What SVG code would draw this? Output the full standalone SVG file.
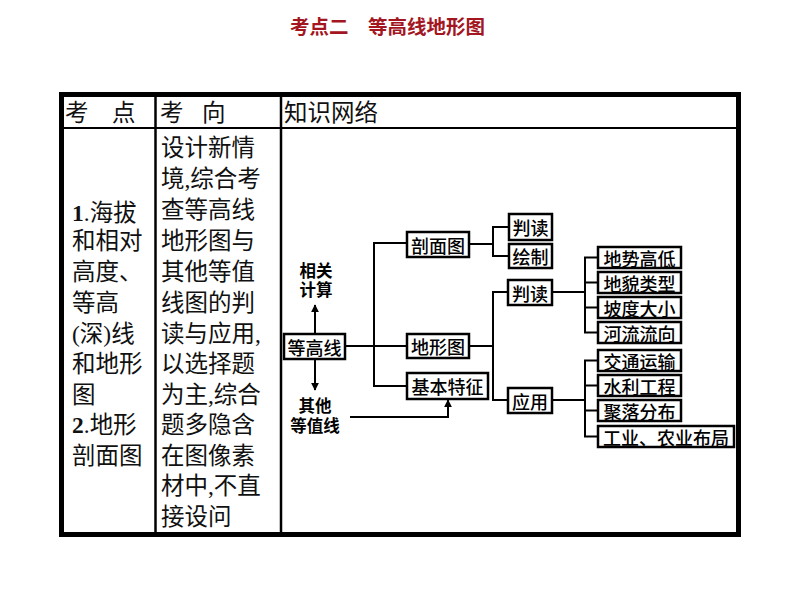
<svg xmlns="http://www.w3.org/2000/svg" width="794" height="596" viewBox="0 0 794 596">
<defs>
<style>
.tbl{font-family:"Liberation Serif","Noto Sans CJK SC",serif;font-size:23.5px;fill:#111;dominant-baseline:central}
.box rect{fill:#fff;stroke:#000;stroke-width:2.5}
.box text{font-family:"Noto Sans CJK SC",sans-serif;font-size:18px;font-weight:500;fill:#000;dominant-baseline:central;text-anchor:middle}
.lbl{font-family:"Liberation Sans","Noto Sans CJK SC",sans-serif;font-weight:700;font-size:16.5px;fill:#000;dominant-baseline:central;text-anchor:middle}
.conn{fill:none;stroke:#000;stroke-width:2}
</style>
<marker id="ah" viewBox="0 0 10 10" refX="9" refY="5" markerWidth="4" markerHeight="5" orient="auto" markerUnits="strokeWidth">
<path d="M0,0 L10,5 L0,10 z" fill="#000"/>
</marker>
</defs>
<rect width="794" height="596" fill="#fff"/>
<text x="290" y="25" font-family="Noto Sans CJK SC,sans-serif" font-size="19.5" font-weight="700" fill="#a3161f" dominant-baseline="central">考点二　等高线地形图</text>

<g id="table">
<rect x="61.5" y="94.5" width="677" height="440" fill="none" stroke="#000" stroke-width="5"/>
<line x1="61" y1="128" x2="738" y2="128" stroke="#000" stroke-width="2"/>
<line x1="155.5" y1="95" x2="155.5" y2="534" stroke="#000" stroke-width="2.5"/>
<line x1="281" y1="95" x2="281" y2="534" stroke="#000" stroke-width="2.5"/>
<text class="tbl" x="65" y="113">考</text>
<text class="tbl" x="112" y="113">点</text>
<text class="tbl" x="160" y="113">考</text>
<text class="tbl" x="202" y="113">向</text>
<text class="tbl" x="284" y="113">知识网络</text>
<g id="col1">
<text class="tbl" x="72" y="213"><tspan font-weight="700">1</tspan>.海拔</text>
<text class="tbl" x="72" y="241">和相对</text>
<text class="tbl" x="72" y="272">高度、</text>
<text class="tbl" x="72" y="303">等高</text>
<text class="tbl" x="72" y="334">(深)线</text>
<text class="tbl" x="72" y="364">和地形</text>
<text class="tbl" x="72" y="395">图</text>
<text class="tbl" x="72" y="425"><tspan font-weight="700">2</tspan>.地形</text>
<text class="tbl" x="72" y="456">剖面图</text>
</g>
<g id="col2">
<text class="tbl" x="161" y="148">设计新情</text>
<text class="tbl" x="161" y="179">境,综合考</text>
<text class="tbl" x="161" y="210">查等高线</text>
<text class="tbl" x="161" y="241">地形图与</text>
<text class="tbl" x="161" y="272">其他等值</text>
<text class="tbl" x="161" y="303">线图的判</text>
<text class="tbl" x="161" y="334">读与应用,</text>
<text class="tbl" x="161" y="364">以选择题</text>
<text class="tbl" x="161" y="395">为主,综合</text>
<text class="tbl" x="161" y="425">题多隐含</text>
<text class="tbl" x="161" y="456">在图像素</text>
<text class="tbl" x="161" y="486">材中,不直</text>
<text class="tbl" x="161" y="517">接设问</text>
</g>
</g>

<g id="connectors">
<path class="conn" d="M345,346 H407"/>
<path class="conn" d="M407,243 H374 V386 H407"/>
<path class="conn" d="M469,244 H493"/>
<path class="conn" d="M509,227 H493 V256 H509"/>
<path class="conn" d="M469,346 H493"/>
<path class="conn" d="M508,292 H493 V400 H508"/>
<path class="conn" d="M552,292 H585"/>
<path class="conn" d="M598,257.5 H585 V332.5 H598 M585,282.5 H598 M585,307.5 H598"/>
<path class="conn" d="M552,400 H585"/>
<path class="conn" d="M598,360.5 H585 V436.5 H598 M585,385.5 H598 M585,410.5 H598"/>
<path class="conn" d="M315,334 V305" marker-end="url(#ah)"/>
<path class="conn" d="M315,359 V390" marker-end="url(#ah)"/>
<path class="conn" d="M350,417 H448 V400" marker-end="url(#ah)"/>
</g>

<g id="n-xgjs"><text class="lbl" x="316" y="271">相关</text><text class="lbl" x="316" y="290">计算</text></g>
<g id="n-qtdzx"><text class="lbl" x="315" y="406">其他</text><text class="lbl" x="315" y="426">等值线</text></g>

<g id="n-dgx" class="box"><rect x="284" y="334" width="61" height="25"/><text x="314.5" y="346.5">等高线</text></g>
<g id="n-pmt" class="box"><rect x="407" y="232" width="62" height="25"/><text x="438" y="244.5">剖面图</text></g>
<g id="n-dxt" class="box"><rect x="407" y="334" width="62" height="24"/><text x="438" y="346">地形图</text></g>
<g id="n-jbtz" class="box"><rect x="407" y="373" width="81" height="26"/><text x="447.5" y="386">基本特征</text></g>
<g id="n-pd1" class="box"><rect x="509" y="214" width="43" height="26"/><text x="530.5" y="227">判读</text></g>
<g id="n-hz" class="box"><rect x="509" y="244" width="43" height="24"/><text x="530.5" y="256">绘制</text></g>
<g id="n-pd2" class="box"><rect x="508" y="280" width="44" height="25"/><text x="530" y="292.5">判读</text></g>
<g id="n-yy" class="box"><rect x="508" y="388" width="44" height="25"/><text x="530" y="400.5">应用</text></g>
<g id="n-dsgd" class="box"><rect x="598" y="247" width="83" height="21"/><text x="639.5" y="257.5">地势高低</text></g>
<g id="n-dmlx" class="box"><rect x="598" y="272" width="83" height="21"/><text x="639.5" y="282.5">地貌类型</text></g>
<g id="n-pddx" class="box"><rect x="598" y="297" width="83" height="21"/><text x="639.5" y="307.5">坡度大小</text></g>
<g id="n-hllx" class="box"><rect x="598" y="322" width="83" height="21"/><text x="639.5" y="332.5">河流流向</text></g>
<g id="n-jtys" class="box"><rect x="598" y="350" width="83" height="21"/><text x="639.5" y="360.5">交通运输</text></g>
<g id="n-slgc" class="box"><rect x="598" y="375" width="83" height="21"/><text x="639.5" y="385.5">水利工程</text></g>
<g id="n-jlfb" class="box"><rect x="598" y="400" width="83" height="21"/><text x="639.5" y="410.5">聚落分布</text></g>
<g id="n-gynybj" class="box"><rect x="598" y="426" width="136" height="21"/><text x="666" y="436.5">工业、农业布局</text></g>
</svg>
